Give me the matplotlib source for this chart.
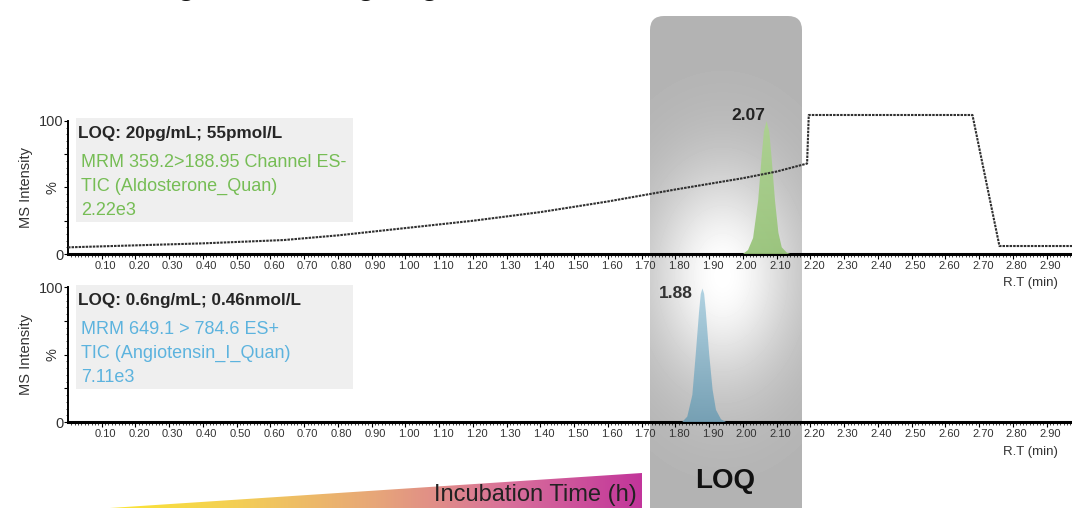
import numpy as np
import matplotlib
matplotlib.use("Agg")
import matplotlib.pyplot as plt
from matplotlib.colors import LinearSegmentedColormap
from matplotlib.patches import FancyBboxPatch, Rectangle, Polygon, PathPatch
from matplotlib.transforms import ScaledTranslation

plt.rcParams['font.family'] = ['Liberation Sans', 'DejaVu Sans']

# retention times (min) and relative intensities (%)
tic_rt = [0.0, 0.2, 0.4, 0.64, 0.8, 1.0, 1.2, 1.4, 1.6, 1.8, 2.0, 2.1, 2.19, 2.195, 2.68, 2.76, 2.975]
tic_int = [5, 6.5, 8, 10.5, 14, 19.5, 25, 31.5, 39.5, 48.5, 57, 62, 68, 104.5, 104.5, 6, 6]

aldo_rt = [2.00, 2.015, 2.03, 2.045, 2.055, 2.062, 2.07, 2.078, 2.085, 2.095, 2.105, 2.115, 2.13, 2.14]
aldo_int = [0, 3, 12, 40, 72, 92, 100, 92, 72, 40, 16, 5, 1, 0]

angio_rt = [1.82, 1.835, 1.85, 1.86, 1.87, 1.875, 1.88, 1.885, 1.89, 1.90, 1.91, 1.92, 1.935, 1.95]
angio_int = [0, 4, 20, 50, 82, 95, 99, 95, 82, 50, 24, 9, 2, 0]

aldo_apex = 2.07
angio_apex = 1.88

aldo_lines = ["MRM 359.2>188.95 Channel ES-", "TIC (Aldosterone_Quan)", "2.22e3"]
angio_lines = ["MRM 649.1 > 784.6 ES+", "TIC (Angiotensin_I_Quan)", "7.11e3"]
aldo_loq = "LOQ: 20pg/mL; 55pmol/L"
angio_loq = "LOQ: 0.6ng/mL; 0.46nmol/L"

xticks = np.round(np.arange(0.1, 2.95, 0.1), 2)

GREEN = '#76bd55'
BLUE = '#5cb3de'
W, H = 1072, 508

fig = plt.figure(figsize=(W / 100, H / 100), dpi=100)

# background layer in pixel units: shaded LOQ column
bg = fig.add_axes([0, 0, 1, 1], zorder=0)
bg.axis('off')
box = FancyBboxPatch((650, 16), 152, 530, boxstyle='round,pad=0,rounding_size=14',
                     facecolor='none', edgecolor='none')
bg.add_patch(box)
gx, gy = np.meshgrid(np.arange(650, 803), np.arange(16, 547))
glow = 0.70 + 0.30 * np.exp(-1.4 * (((gx - 722) / 85.0) ** 2 + ((gy - 275) / 125.0) ** 2))
im = bg.imshow(glow, cmap='gray', vmin=0, vmax=1, extent=(650, 803, 547, 16),
               origin='upper', aspect='auto', interpolation='bilinear')
im.set_clip_path(box)
bg.set_xlim(0, W)
bg.set_ylim(H, 0)


def gradient_fill(ax, x, y, top, bottom):
    x = np.asarray(x)
    y = np.asarray(y)
    coll = ax.fill_between(x, y, 0, color='none', linewidth=0)
    patch = PathPatch(coll.get_paths()[0], transform=ax.transData,
                      facecolor='none', edgecolor='none')
    ax.add_patch(patch)
    cmap = LinearSegmentedColormap.from_list('pk', [bottom, top])
    img = ax.imshow(np.linspace(0, 1, 256).reshape(-1, 1), cmap=cmap, aspect='auto',
                    extent=(x.min(), x.max(), 0, y.max()), origin='lower',
                    alpha=0.9, zorder=3)
    img.set_clip_path(patch)


def style_axis(ax):
    ax.set_facecolor('none')
    for s in ('top', 'right'):
        ax.spines[s].set_visible(False)
    ax.spines['bottom'].set_linewidth(2.2)
    ax.spines['left'].set_linewidth(1.4)
    ax.spines['left'].set_bounds(0, 100)
    ax.set_xticks(xticks)
    ax.set_xticklabels(['%.2f' % t for t in xticks])
    ax.set_xticks(np.arange(0.01, 2.975, 0.01), minor=True)
    ax.tick_params(axis='x', which='major', length=3.5, width=0.8, pad=1.5,
                   labelsize=8, labelcolor='#333333')
    ax.tick_params(axis='x', which='minor', length=2, width=0.5)
    ax.set_yticks([0, 25, 50, 75, 100])
    ax.set_yticklabels(['0', '', '', '', '100'])
    ax.tick_params(axis='y', length=3, width=0.8, pad=0.5, labelsize=10.5,
                   labelcolor='#333333')
    ax.set_yticks(np.arange(0, 101, 5), minor=True)
    ax.tick_params(axis='y', which='minor', length=1.5, width=0.5)
    for lbl in ax.get_xticklabels():
        lbl.set_transform(lbl.get_transform() + ScaledTranslation(0.035, 0, fig.dpi_scale_trans))
    ax.text(-0.045, 50, '%', rotation=90, ha='center', va='center',
            fontsize=10.5, color='#333333', transform=ax.transData)
    ax.text(-0.125, 50, 'MS Intensity', rotation=90, ha='center', va='center',
            fontsize=10.5, color='#333333', transform=ax.transData)


# aldosterone panel
ax1 = fig.add_axes([68 / W, 254 / H, 1 - 68 / W, 141 / H], zorder=1)
style_axis(ax1)
ax1.plot(tic_rt, tic_int, color='#303030', lw=1.5, ls=(0, (1.2, 0.5)), zorder=4,
         clip_on=False)
gradient_fill(ax1, aldo_rt, aldo_int, '#add48f', '#94c274')
ax1.text(aldo_apex - 0.003, max(aldo_int) + 1, '%.2f' % aldo_apex, ha='right',
         va='baseline', fontsize=12.5, fontweight='bold', color='#222222', zorder=5)
ax1.set_xlim(0, 2.975)
ax1.set_ylim(0, 106)

# angiotensin panel
ax2 = fig.add_axes([68 / W, 86 / H, 1 - 68 / W, 143 / H], zorder=1)
style_axis(ax2)
gradient_fill(ax2, angio_rt, angio_int, '#aacfe0', '#6e9db3')
ax2.text(angio_apex - 0.03, 92, '%.2f' % angio_apex, ha='right', va='baseline',
         fontsize=12.5, fontweight='bold', color='#333333', zorder=5)
ax2.set_xlim(0, 2.975)
ax2.set_ylim(0, 106)

# foreground layer in pixel units: info boxes, labels, incubation wedge
fg = fig.add_axes([0, 0, 1, 1], zorder=5)
fg.set_facecolor('none')
fg.axis('off')

for top, loq, lines, col in ((118, aldo_loq, aldo_lines, GREEN),
                             (285, angio_loq, angio_lines, BLUE)):
    fg.add_patch(Rectangle((76, top), 277, 104, facecolor='#efefef', edgecolor='none'))
    fg.text(78, top + 20, loq, fontsize=12.3, fontweight='bold', color='#262626',
            va='baseline')
    for i, line in enumerate(lines):
        fg.text(81, top + 49 + 24 * i, line, fontsize=13, color=col, va='baseline')

fg.text(1058, 283, 'R.T (min)', ha='right', va='center', fontsize=9.5, color='#333333')
fg.text(1058, 452, 'R.T (min)', ha='right', va='center', fontsize=9.5, color='#333333')

wedge = Polygon([(110, 508), (642, 473), (642, 508)], closed=True,
                facecolor='none', edgecolor='none')
fg.add_patch(wedge)
warm = LinearSegmentedColormap.from_list(
    'incub', ['#fbe634', '#f3cd57', '#e7a679', '#d8709a', '#c2359b'])
wi = fg.imshow(np.linspace(0, 1, 256).reshape(1, -1), cmap=warm, aspect='auto',
               extent=(110, 642, 508, 473), origin='upper')
wi.set_clip_path(wedge)
fg.text(637, 495, 'Incubation Time (h)', ha='right', va='center', fontsize=17,
        color='#222222')

fg.text(725, 481, 'LOQ', ha='center', va='center', fontsize=20, fontweight='bold',
        color='#111111')

# page heading sits above the frame; only its lowest strokes fall inside
fg.text(40, -5, 'Chromatogram showing Angiotensin I and Aldosterone', ha='left',
        va='baseline', fontsize=21, fontweight='bold', color='#111111')

fg.set_xlim(0, W)
fg.set_ylim(H, 0)

fig.savefig('out.png', dpi=100)
